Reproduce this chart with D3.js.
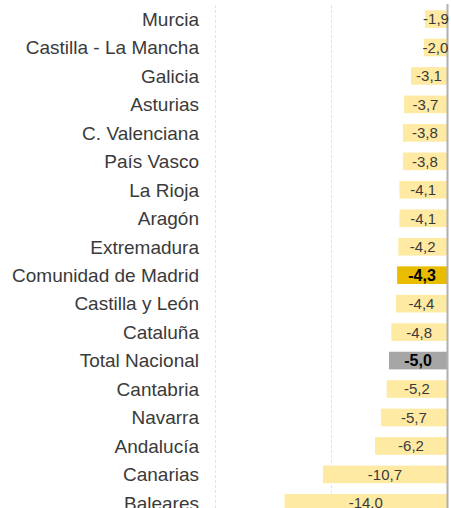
<!DOCTYPE html>
<html><head><meta charset="utf-8">
<script src="https://cdn.jsdelivr.net/npm/d3@7"></script>
<style>body{margin:0;background:#fff}svg{display:block}</style>
</head><body>
<script>
const categories = ["Murcia","Castilla - La Mancha","Galicia","Asturias","C. Valenciana","País Vasco","La Rioja","Aragón","Extremadura","Comunidad de Madrid","Castilla y León","Cataluña","Total Nacional","Cantabria","Navarra","Andalucía","Canarias","Baleares"];
const values = [-1.9,-2.0,-3.1,-3.7,-3.8,-3.8,-4.1,-4.1,-4.2,-4.3,-4.4,-4.8,-5.0,-5.2,-5.7,-6.2,-10.7,-14.0];
const gridTicks = [-20,-10];
const highlight = {"Comunidad de Madrid":"#e9bc00","Total Nacional":"#a6a6a6"};

const W=451,H=508;
const svg=d3.select("body").append("svg").attr("width",W).attr("height",H);
const x=d3.scaleLinear().domain([-20,0]).range([215,447]);
const y=d3.scaleBand().domain(categories).range([4.8,517.1]).paddingInner(0.38).paddingOuter(0.19);

svg.selectAll("line.grid").data(gridTicks).join("line").attr("class","grid")
  .attr("x1",d=>x(d)+0.5).attr("x2",d=>x(d)+0.5).attr("y1",5).attr("y2",H)
  .attr("stroke","#fbe3a0").attr("stroke-width",1).attr("stroke-dasharray","3,2");

const data=categories.map((c,i)=>({c,v:values[i]}));
svg.selectAll("rect.bar").data(data).join("rect").attr("class","bar")
  .attr("x",d=>x(d.v)).attr("width",d=>x(0)-x(d.v))
  .attr("y",d=>y(d.c)).attr("height",y.bandwidth())
  .attr("fill",d=>highlight[d.c]||"#ffeaa3");

svg.append("line").attr("x1",x(0)+0.5).attr("x2",x(0)+0.5).attr("y1",4).attr("y2",H)
  .attr("stroke","#b0b0b0").attr("stroke-width",2);

const fmt=v=>d3.format(".1f")(v).replace("−","-").replace(".",",");
svg.selectAll("text.val").data(data).join("text").attr("class","val")
  .attr("x",d=>(x(d.v)+x(0))/2)
  .attr("y",d=>y(d.c)+y.bandwidth()/2)
  .attr("dy","0.36em")
  .attr("text-anchor","middle")
  .attr("font-family","Liberation Sans, Arial, sans-serif")
  .attr("font-size",d=>highlight[d.c]?16:15)
  .attr("font-weight",d=>highlight[d.c]?"bold":"normal")
  .attr("fill",d=>highlight[d.c]?"#000":"#3a3a3a")
  .text(d=>fmt(d.v));

svg.selectAll("text.cat").data(data).join("text").attr("class","cat")
  .attr("x",199).attr("y",d=>y(d.c)+y.bandwidth()/2).attr("dy","0.36em")
  .attr("text-anchor","end")
  .attr("font-family","Liberation Sans, Arial, sans-serif")
  .attr("font-size",19).attr("fill","#3a3a3a")
  .text(d=>d.c);
</script>
</body></html>
